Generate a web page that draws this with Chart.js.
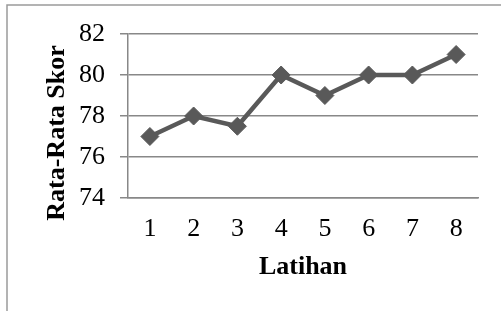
<!DOCTYPE html>
<html>
<head>
<meta charset="utf-8">
<script src="https://cdn.jsdelivr.net/npm/chart.js@4"></script>
<style>
  html, body { margin: 0; padding: 0; background: #fff; }
  #wrap { width: 501px; height: 311px; position: relative; }
</style>
</head>
<body>
<div id="wrap"><canvas id="chart" width="501" height="311"></canvas></div>
<script>
const latihan = ["1", "2", "3", "4", "5", "6", "7", "8"];
const rataSkor = [77, 78, 77.5, 80, 79, 80, 80, 81];
const yTitle = "Rata-Rata Skor";
const xTitle = "Latihan";

const serif = "'Liberation Serif', 'Times New Roman', serif";
const gridColor = "#888888";

// outer frame and the rotated y title
const framePlugin = {
    id: "frame",
    beforeDraw(chart) {
        const ctx = chart.ctx;
        ctx.save();
        ctx.strokeStyle = "#9a9a9a";
        ctx.lineWidth = 1.5;
        ctx.beginPath();
        ctx.moveTo(7, 311);
        ctx.lineTo(7, 5);
        ctx.lineTo(501, 5);
        ctx.stroke();
        ctx.restore();
    },
    afterDraw(chart) {
        const ctx = chart.ctx;
        ctx.save();
        ctx.translate(57, 133);
        ctx.rotate(-Math.PI / 2);
        ctx.font = "bold 26px " + serif;
        ctx.fillStyle = "#000";
        ctx.textAlign = "center";
        ctx.textBaseline = "middle";
        ctx.fillText(yTitle, 0, 0);
        ctx.restore();
    }
};

new Chart(document.getElementById("chart"), {
    type: "line",
    data: {
        labels: latihan,
        datasets: [{
            data: rataSkor,
            borderColor: "#595959",
            backgroundColor: "#595959",
            borderWidth: 4.5,
            pointStyle: "rectRot",
            pointRadius: 9,
            pointBorderWidth: 1,
            pointBackgroundColor: "#595959",
            pointBorderColor: "#595959",
            tension: 0
        }]
    },
    options: {
        responsive: false,
        maintainAspectRatio: false,
        animation: false,
        layout: { padding: { top: 34, right: 23, left: 0, bottom: 0 } },
        plugins: {
            legend: { display: false },
            tooltip: { enabled: false }
        },
        scales: {
            x: {
                offset: true,
                grid: { display: false, drawTicks: false, tickLength: 0 },
                border: { display: true, color: gridColor, width: 1.5 },
                ticks: {
                    color: "#000",
                    font: { family: serif, size: 26 },
                    padding: 16,
                    maxRotation: 0
                },
                title: {
                    display: true,
                    text: xTitle,
                    color: "#000",
                    font: { family: serif, size: 26, weight: "bold" },
                    padding: { top: 0, bottom: 28 }
                },
                afterFit(scale) { scale.height = 113; }
            },
            y: {
                min: 74,
                max: 82,
                grid: { color: gridColor, lineWidth: 1.5, drawTicks: true, tickLength: 8 },
                border: { display: true, color: gridColor, width: 1.5 },
                ticks: {
                    stepSize: 2,
                    color: "#000",
                    font: { family: serif, size: 26 },
                    padding: 15
                },
                afterFit(scale) { scale.width = 128; }
            }
        }
    },
    plugins: [framePlugin]
});
</script>
</body>
</html>
